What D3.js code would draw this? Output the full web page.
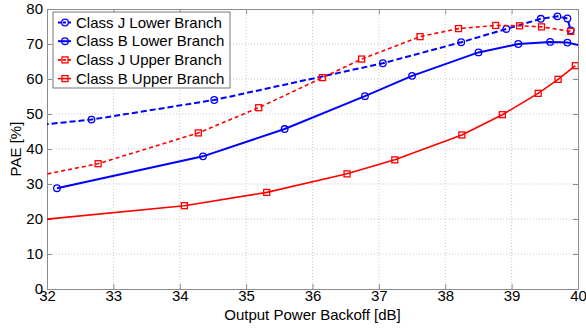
<!DOCTYPE html>
<html>
<head>
<meta charset="utf-8">
<script src="https://cdn.jsdelivr.net/npm/d3@7"></script>
<style>
  body { margin: 0; background: #fff; }
  svg { display: block; font-family: "Liberation Sans", Arial, sans-serif; }
</style>
</head>
<body>
<div id="chart"></div>
<script>
// series names, in legend order
var seriesNames = ["Class J Lower Branch", "Class B Lower Branch", "Class J Upper Branch", "Class B Upper Branch"];

// backoff values [dB] and PAE [%]
// (first/last points that sit outside 32..40 get clipped at the frame)
var jLowerX = [31.8, 32.67, 34.52, 37.06, 38.24, 38.92, 39.44, 39.69, 39.84, 39.89];
var jLowerY = [46.7, 48.4, 54.0, 64.5, 70.5, 74.3, 77.2, 77.9, 77.3, 73.9];

var bLowerX = [32.15, 34.35, 35.58, 36.79, 37.5, 38.5, 39.1, 39.58, 39.84, 40.1];
var bLowerY = [28.8, 37.9, 45.7, 55.1, 60.9, 67.6, 70.0, 70.6, 70.4, 69.3];

var jUpperX = [31.8, 32.77, 34.28, 35.19, 36.15, 36.74, 37.62, 38.2, 38.76, 39.12, 39.45, 39.89];
var jUpperY = [32.1, 35.8, 44.6, 51.8, 60.4, 65.7, 72.1, 74.4, 75.3, 75.2, 74.9, 73.6];

var bUpperX = [31.8, 34.07, 35.31, 36.52, 37.24, 38.25, 38.86, 39.4, 39.7, 39.96];
var bUpperY = [19.6, 23.8, 27.6, 32.9, 36.9, 44.0, 49.8, 55.9, 59.9, 63.8];

var xTicks = [32, 33, 34, 35, 36, 37, 38, 39, 40];
var yTicks = [0, 10, 20, 30, 40, 50, 60, 70, 80];

var width = 586, height = 330;
var margin = { top: 9, right: 8, bottom: 41, left: 47 };
var w = width - margin.left - margin.right;
var h = height - margin.top - margin.bottom;

var series = [
  { name: seriesNames[0], xs: jLowerX, ys: jLowerY, color: "#0000ff", dash: "6,3", lw: 2, marker: "circle" },
  { name: seriesNames[1], xs: bLowerX, ys: bLowerY, color: "#0000ff", dash: null, lw: 2, marker: "circle" },
  { name: seriesNames[2], xs: jUpperX, ys: jUpperY, color: "#ff0000", dash: "4,3", lw: 1.6, marker: "square" },
  { name: seriesNames[3], xs: bUpperX, ys: bUpperY, color: "#ff0000", dash: null, lw: 1.6, marker: "square" }
];

var svg = d3.select("#chart").append("svg")
  .attr("width", width)
  .attr("height", height);

var g = svg.append("g")
  .attr("transform", "translate(" + margin.left + "," + margin.top + ")");

var x = d3.scaleLinear().domain([32, 40]).range([0, w]);
var y = d3.scaleLinear().domain([0, 80]).range([h, 0]);

// dotted grid
g.append("g").selectAll("line.vx")
  .data(xTicks.slice(1, -1))
  .enter().append("line")
  .attr("x1", d => x(d)).attr("x2", d => x(d))
  .attr("y1", 0).attr("y2", h)
  .attr("stroke", "#c8c8c8").attr("stroke-dasharray", "1,2");
g.append("g").selectAll("line.hy")
  .data(yTicks.slice(1, -1))
  .enter().append("line")
  .attr("y1", d => y(d)).attr("y2", d => y(d))
  .attr("x1", 0).attr("x2", w)
  .attr("stroke", "#c8c8c8").attr("stroke-dasharray", "1,2");

// axes, ticks pointing inward like matlab
var axisColor = "#8c8c8c";
function styleAxis(sel) {
  sel.select(".domain").attr("stroke", axisColor);
  sel.selectAll(".tick line").attr("stroke", axisColor);
  sel.selectAll(".tick text").attr("fill", "#000").style("font-size", "15px");
}

g.append("g")
  .attr("transform", "translate(0," + h + ")")
  .call(d3.axisBottom(x).tickValues(xTicks).tickSizeInner(-5).tickSizeOuter(0).tickPadding(1))
  .call(styleAxis);
g.append("g")
  .call(d3.axisLeft(y).tickValues(yTicks).tickSizeInner(-5).tickSizeOuter(0).tickPadding(4))
  .call(styleAxis);
g.append("g")
  .attr("transform", "translate(" + w + ",0)")
  .call(d3.axisRight(y).tickValues(yTicks).tickSizeInner(-5).tickSizeOuter(0).tickFormat(""))
  .call(styleAxis);
g.append("g")
  .call(d3.axisTop(x).tickValues(xTicks).tickSizeInner(-5).tickSizeOuter(0).tickFormat(""))
  .call(styleAxis);

// clip to the frame
g.append("clipPath").attr("id", "plotClip")
  .append("rect").attr("width", w).attr("height", h);

var plot = g.append("g").attr("clip-path", "url(#plotClip)");

var line = d3.line().x(d => x(d[0])).y(d => y(d[1]));

function drawMarker(sel, s, px, py) {
  if (s.marker == "circle") {
    sel.append("circle")
      .attr("cx", px).attr("cy", py).attr("r", 3.3)
      .attr("fill", "none").attr("stroke", s.color).attr("stroke-width", 1.3);
  } else {
    sel.append("rect")
      .attr("x", px - 3).attr("y", py - 3).attr("width", 6).attr("height", 6)
      .attr("fill", "none").attr("stroke", s.color).attr("stroke-width", 1.3);
  }
}

series.forEach(function (s) {
  var pts = s.xs.map((v, i) => [v, s.ys[i]]);
  plot.append("path")
    .datum(pts)
    .attr("d", line)
    .attr("fill", "none")
    .attr("stroke", s.color)
    .attr("stroke-width", s.lw)
    .attr("stroke-dasharray", s.dash);
  var mg = plot.append("g");
  pts.forEach(function (p) {
    drawMarker(mg, s, x(p[0]), y(p[1]));
  });
});

// axis labels
svg.append("text")
  .attr("x", margin.left + w / 2)
  .attr("y", 320)
  .attr("text-anchor", "middle")
  .style("font-size", "15px")
  .text("Output Power Backoff [dB]");

svg.append("text")
  .attr("transform", "translate(21," + (margin.top + h / 2) + ") rotate(-90)")
  .attr("text-anchor", "middle")
  .style("font-size", "15px")
  .text("PAE [%]");

// legend
var legend = g.append("g").attr("transform", "translate(6,3)");
legend.append("rect")
  .attr("width", 177).attr("height", 76)
  .attr("fill", "#fff").attr("stroke", "#555").attr("stroke-width", 0.8);

series.forEach(function (s, i) {
  var ly = 10.5 + i * 18.7;
  var row = legend.append("g");
  row.append("line")
    .attr("x1", 5).attr("x2", 18).attr("y1", ly).attr("y2", ly)
    .attr("stroke", s.color).attr("stroke-width", s.lw)
    .attr("stroke-dasharray", s.dash ? "3,2" : null);
  drawMarker(row, s, 12, ly);
  row.append("text")
    .attr("x", 23).attr("y", ly + 5)
    .style("font-size", "15px")
    .text(s.name);
});
</script>
</body>
</html>
